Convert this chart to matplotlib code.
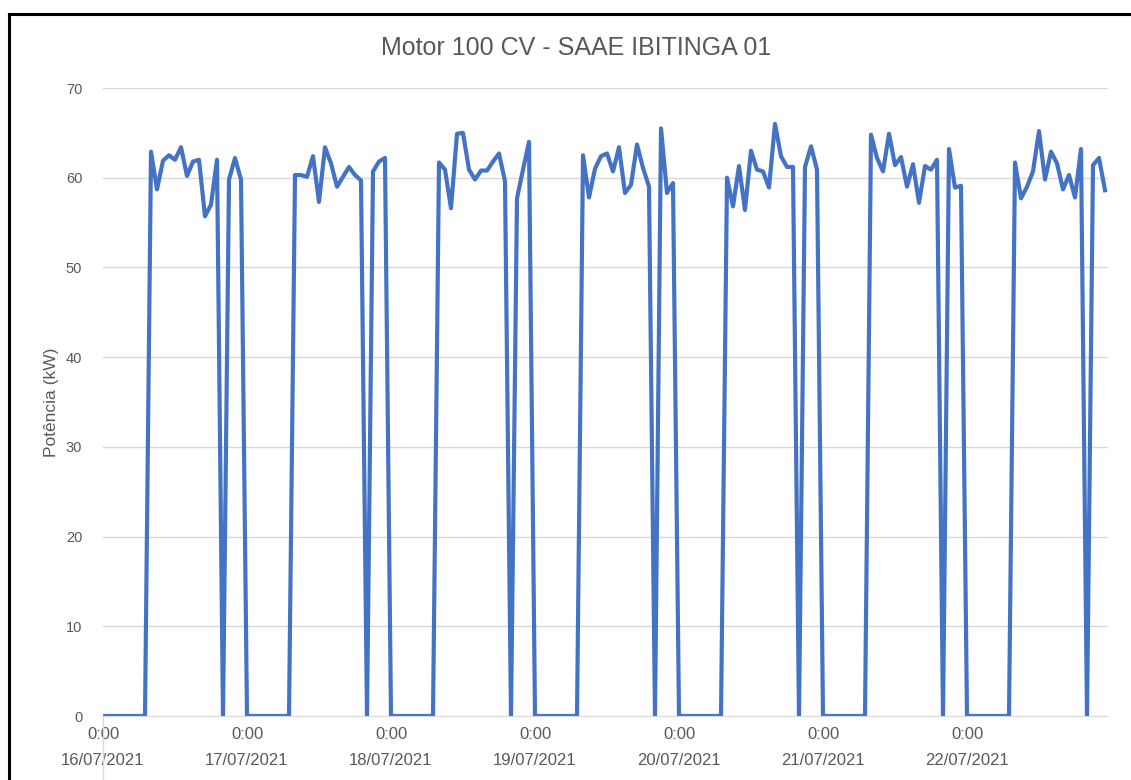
import numpy as np
import matplotlib.pyplot as plt
from matplotlib.lines import Line2D

plt.rcParams['font.family'] = ['Liberation Sans', 'DejaVu Sans']

# hourly readings, each day 0:00 .. 23:00
dias = ['16/07/2021', '17/07/2021', '18/07/2021', '19/07/2021',
        '20/07/2021', '21/07/2021', '22/07/2021']

d16 = [0, 0, 0, 0, 0, 0, 0, 0, 62.9, 58.7, 61.9, 62.5, 62.0, 63.4, 60.2, 61.8,
       62.0, 55.7, 57.0, 62.0, 0, 59.8, 62.2, 59.8]
d17 = [0, 0, 0, 0, 0, 0, 0, 0, 60.3, 60.3, 60.1, 62.4, 57.3, 63.4, 61.6, 59.0,
       60.1, 61.2, 60.3, 59.7, 0, 60.7, 61.8, 62.2]
d18 = [0, 0, 0, 0, 0, 0, 0, 0, 61.7, 60.9, 56.6, 64.9, 65.0, 60.9, 59.8, 60.8,
       60.8, 61.8, 62.7, 59.6, 0, 57.7, 60.9, 64.0]
d19 = [0, 0, 0, 0, 0, 0, 0, 0, 62.5, 57.8, 61.0, 62.4, 62.7, 60.7, 63.4, 58.3,
       59.2, 63.7, 61.1, 59.0, 0, 65.5, 58.3, 59.4]
d20 = [0, 0, 0, 0, 0, 0, 0, 0, 60.0, 56.8, 61.3, 56.4, 63.0, 60.9, 60.7, 58.9,
       66.0, 62.4, 61.2, 61.2, 0, 61.2, 63.5, 60.9]
d21 = [0, 0, 0, 0, 0, 0, 0, 0, 64.8, 62.2, 60.7, 64.9, 61.4, 62.3, 59.0, 61.5,
       57.2, 61.3, 60.9, 62.0, 0, 63.2, 58.9, 59.1]
d22 = [0, 0, 0, 0, 0, 0, 0, 0, 61.7, 57.7, 59.0, 60.7, 65.2, 59.8, 62.9, 61.6,
       58.7, 60.3, 57.8, 63.2, 0, 61.4, 62.2, 58.6]

potencia = d16 + d17 + d18 + d19 + d20 + d21 + d22
horas = np.arange(len(potencia))

cinza = '#595959'

fig = plt.figure(figsize=(11.31, 7.8), dpi=100)
ax = fig.add_axes([103 / 1131, 1 - 716 / 780, (1108 - 103) / 1131, (716 - 88) / 780])

ax.plot(horas, potencia, color='#4472C4', lw=3.0, solid_joinstyle='round')

ax.set_xlim(0, 167.5)
ax.set_ylim(0, 70)
ax.set_yticks(range(0, 71, 10))
ax.set_xticks(range(0, 168, 24))
ax.set_xticklabels(['0:00\n' + d for d in dias], linespacing=1.9)
ax.tick_params(axis='both', length=0, colors=cinza)
ax.tick_params(axis='x', pad=8, labelsize=12)
ax.tick_params(axis='y', pad=15, labelsize=10.5)
ax.grid(axis='y', color='#d9d9d9', lw=1)
ax.set_axisbelow(True)
for s in ['top', 'right', 'left']:
    ax.spines[s].set_visible(False)
ax.spines['bottom'].set_color('#d9d9d9')
ax.plot([0, 0], [0, -0.12], transform=ax.transAxes, color='#d9d9d9', lw=1, clip_on=False)

ax.set_ylabel('Potência (kW)', color=cinza, fontsize=12.5, labelpad=5)

fig.text(576 / 1131, 1 - 48 / 780, 'Motor 100 CV - SAAE IBITINGA 01',
         ha='center', va='center', fontsize=18, color=cinza)

# screenshot frame (left and top)
fig.add_artist(Line2D([8.5 / 1131, 8.5 / 1131], [0, 1 - 13.5 / 780], transform=fig.transFigure,
                      color='black', lw=2.2))
fig.add_artist(Line2D([8.5 / 1131, 1], [1 - 13.5 / 780, 1 - 13.5 / 780], transform=fig.transFigure,
                      color='black', lw=2.2))

fig.savefig('out.png', dpi=100)
